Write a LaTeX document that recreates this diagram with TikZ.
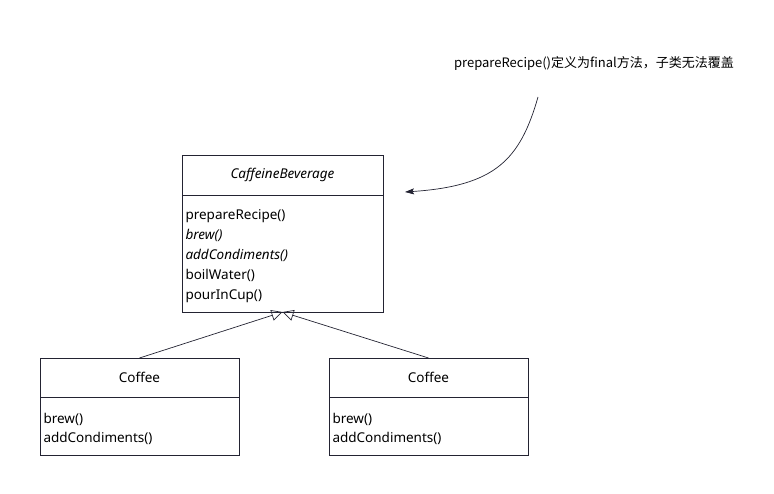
\documentclass[tikz,border=0pt]{standalone}
\usepackage{fontspec}
\setmainfont{Noto Sans}
\newfontfamily\cjk{Noto Sans CJK SC}
\usetikzlibrary{positioning,arrows.meta}

\definecolor{umlgray}{RGB}{35,35,50}

\tikzset{
  umlline/.style={draw=umlgray, line width=0.8pt, outer sep=0pt},
  classhead/.style={umlline, minimum width=201pt, inner sep=0pt, font=\fontsize{13.5pt}{15pt}\selectfont},
  classbody/.style={umlline, text width=194pt, inner xsep=3.5pt, inner ysep=0pt, align=left,
    font=\fontsize{13.5pt}{20pt}\selectfont},
  inherit/.style={umlgray, line width=0.7pt, -{Triangle[open, length=11pt, width=11pt]}},
  note/.style={font=\fontsize{13pt}{15pt}\selectfont},
}

\begin{document}
\begin{tikzpicture}[x=1pt, y=-1pt]
  \useasboundingbox (0,0) rectangle (774,494);

  \node[note] (remark) at (594,63) {\cjk prepareRecipe()定义为final方法，子类无法覆盖};
  \coordinate (remarkfrom) at (538,97);
  \coordinate (remarkto) at (405,192);
  \draw[umlgray, line width=0.7pt, -{Stealth[length=9pt, width=6pt, inset=1.5pt]}]
    (remarkfrom) .. controls (520,160) and (495,186) .. (remarkto);

  % abstract class
  \node[classhead, minimum height=40pt, anchor=north west] (cbhead) at (182,155) {\itshape CaffeineBeverage};
  \node[classbody, text height=25pt, text depth=92pt, below=0pt of cbhead] (cbbody)
    {prepareRecipe()\\\textit{brew()}\\\textit{addCondiments()}\\boilWater()\\pourInCup()};

  % subclasses
  \node[classhead, minimum width=199pt, minimum height=39pt, anchor=north west] (lefthead) at (40,358) {Coffee};
  \node[classbody, text width=192pt, text height=26pt, text depth=32pt, below=0pt of lefthead] (leftbody)
    {brew()\\[-1pt]addCondiments()};
  \node[classhead, minimum width=199pt, minimum height=39pt, anchor=north west] (righthead) at (329,358) {Coffee};
  \node[classbody, text width=192pt, text height=26pt, text depth=32pt, below=0pt of righthead] (rightbody)
    {brew()\\[-1pt]addCondiments()};

  \draw[inherit] (lefthead.north) -- (cbbody.south);
  \draw[inherit] (righthead.north) -- (cbbody.south);
\end{tikzpicture}
\end{document}
